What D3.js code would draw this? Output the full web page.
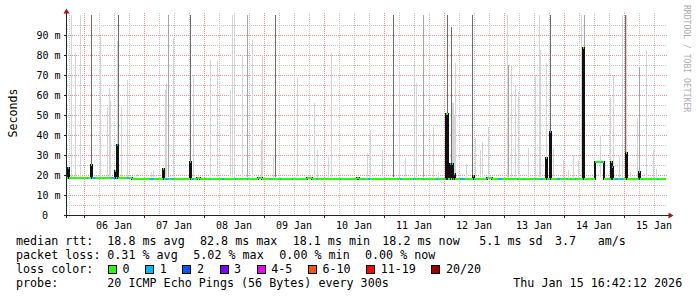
<!DOCTYPE html>
<html>
<head>
<meta charset="utf-8">
<script src="https://cdn.jsdelivr.net/npm/d3@7"></script>
<style>
body { margin: 0; background: #fff; }
text { font-family: 'DejaVu Sans Mono', monospace; fill: #000; }
</style>
</head>
<body>
<div id="chart"></div>
<script>
// ---- data (hours are counted from 06 Jan 2026 00:00, values in ms) ----
var yTicks = [0, 10, 20, 30, 40, 50, 60, 70, 80, 90];
var yTickLabels = ["0", "10 m", "20 m", "30 m", "40 m", "50 m", "60 m", "70 m", "80 m", "90 m"];
var dayLabels = ["06 Jan", "07 Jan", "08 Jan", "09 Jan", "10 Jan", "11 Jan", "12 Jan", "13 Jan", "14 Jan", "15 Jan"];

var startHour = -6.8, endHour = 233.2, lastHour = 232.8, stepHours = 0.4;

// median rtt baseline, [from hour, ms]
var medianLevels = [[-6.8, 18.7], [19.2, 18.2], [45.2, 18.7], [46.4, 18.2], [69.6, 18.7], [71.2, 18.2],
    [89.2, 18.7], [91.2, 18.2], [109.2, 18.7], [110.0, 18.2], [161.2, 18.7], [163.2, 18.2],
    [204.4, 26.7], [208.0, 18.2]];

// single-step jumps of the median, [hour, ms, loss class]
var medianSpikes = [[-6.4, 23.5, 1], [2.8, 25, 0], [12.4, 22, 0], [13.2, 35, 1], [31.6, 23, 0], [42.4, 26.3, 0],
    [144.8, 50.5, 0], [145.2, 50.5, 0], [146.4, 25.5, 1], [147.2, 25.7, 1], [148.0, 20.5, 0], [155.6, 19.5, 0],
    [184.8, 28.5, 0], [186.4, 41.7, 1], [199.6, 83.3, 0], [210.8, 26.7, 0], [211.2, 24, 1], [216.8, 31, 0],
    [222.0, 21.5, 0]];

// periods with 1/20 lost
var lossOne = [[1.2, 1.6], [2.9, 4.5], [10.8, 12.4], [17.2, 17.9], [26.4, 27.9], [32.4, 34], [35.2, 36],
    [43.2, 43.9], [50.4, 50.8], [55.2, 55.9], [60.4, 60.8], [65.2, 65.6], [70, 70.4], [74.4, 74.8],
    [78.4, 78.8], [83.2, 83.6], [93.2, 93.6], [102.4, 102.8], [111.6, 112], [113.6, 114.4], [126.4, 127.1],
    [131.6, 132], [132.4, 132.8], [135.6, 136], [141.1, 141.5], [143.6, 144], [144.4, 144.8], [147.6, 148],
    [150.4, 152.4], [155.9, 156.4], [161.1, 161.5], [165.6, 167.2], [173.2, 173.6], [175.6, 176],
    [180.4, 180.8], [182.4, 183.6], [185.6, 186], [189.2, 190.4], [193.2, 193.6], [196.4, 196.8],
    [199.2, 199.6], [207.1, 207.5], [210.4, 210.8], [212.4, 213.6], [214.4, 215.6], [221.6, 222], [229.2, 229.6]];

// smoke, [hour, top ms, shade 0 light / 1 mid / 2 dark]
var smoke = [[-5.2, 100, 0], [-3.5, 81, 0], [-1.5, 100, 0], [2.9, 100, 2], [6.4, 89, 0], [9.3, 54, 0],
    [10.1, 63.5, 0], [10.5, 57, 0], [13.2, 87, 0], [13.7, 100, 2], [15.1, 54, 0], [17.3, 67.5, 0],
    [21.2, 20.5, 0], [26.9, 21.7, 0], [27.9, 22.5, 0], [32.7, 62.5, 0], [33.1, 66, 0], [33.9, 100, 1],
    [35.7, 88.5, 0], [42.4, 100, 2], [43.7, 70, 0], [50.4, 77.5, 0], [53.3, 77, 0], [58.7, 62.5, 0],
    [59.5, 100, 0], [60.1, 100, 0], [63.3, 80, 0], [65.3, 100, 1], [67.3, 87.5, 0], [70.8, 37.5, 0],
    [71.3, 80, 0], [75.6, 29, 0], [76.5, 100, 2], [85.3, 69, 0], [92.1, 56, 0], [93.2, 32.5, 0],
    [97.6, 29, 0], [99.1, 81, 0], [113.2, 31, 0], [114.4, 42.5, 0], [119.2, 32.5, 0], [123.7, 100, 2],
    [126.1, 71.5, 0], [128.4, 28.5, 0], [132.4, 76.7, 0], [133.1, 66, 0], [135.7, 100, 1], [139.7, 44, 0],
    [141.7, 21.5, 0], [145.5, 100, 2], [146.8, 94, 2], [147.3, 56, 0], [147.7, 56, 0], [148.2, 50, 0],
    [148.7, 76, 0], [153.1, 25.5, 0],
    [155.5, 100, 2], [156.4, 38.5, 0], [158.4, 32.5, 0], [159.3, 36.7, 0], [161.7, 44, 0], [169.3, 100, 0],
    [169.7, 75, 1], [171.1, 75, 0], [172.7, 65, 0], [173.7, 61.5, 0], [177.7, 33.5, 0], [180.4, 70, 0],
    [182.1, 100, 0], [182.7, 82.5, 0], [184.8, 76, 0], [186.4, 100, 2], [187.7, 33.5, 0], [191.7, 27.5, 0],
    [193.7, 22.5, 0], [195.7, 30, 0], [197.7, 27.5, 0], [199.1, 100, 0], [200.1, 100, 1], [206.4, 40, 0],
    [210.4, 58.5, 0], [211.7, 70, 0], [214.1, 29, 0], [215.5, 100, 0], [216.4, 100, 2], [217.1, 100, 0],
    [218.4, 21.5, 0], [221.3, 48.5, 0], [222, 74, 1], [225.1, 82.5, 0], [227.7, 32.5, 0], [228.8, 23, 0]];

var lossLabels = ["0", "1", "2", "3", "4-5", "6-10", "11-19", "20/20"];
var lossColors = ["#26ff00", "#00b8ff", "#0059ff", "#7e00ff", "#ee00ff", "#ff5500", "#ff0000", "#a00000"];
var rttStats = ["18.8 ms avg", "82.8 ms max", "18.1 ms min", "18.2 ms now", "5.1 ms sd", "3.7", "am/s"];
var lossStats = ["0.31 % avg", "5.02 % max", "0.00 % min", "0.00 % now"];
var probeText = "20 ICMP Echo Pings (56 Bytes) every 300s";
var stampText = "Thu Jan 15 16:42:12 2026";

// ---- layout ----
var W = 697, H = 297;
var charW = 7;
var smokeShades = ["#d4d4d4", "#a4a4a4", "#6c6c6c"];
var rttX = [107.3, 200, 292.7, 382.3, 479.3, 555, 597.7];
var lossX = [107.3, 193.3, 279.3, 365];

var t0 = new Date(2026, 0, 6).getTime();
function hourToDate(h) { return new Date(t0 + h * 3600 * 1000); }

var x = d3.scaleTime()
    .domain([hourToDate(startHour), hourToDate(endHour)])
    .range([67, 667]);
var y = d3.scaleLinear().domain([0, 100]).range([215, 15]);

var svg = d3.select("#chart").append("svg")
    .attr("width", W).attr("height", H)
    .style("display", "block");
svg.append("rect").attr("width", W).attr("height", H).attr("fill", "#fff");

////////// grid //////////
var grid = svg.append("g").attr("shape-rendering", "crispEdges").attr("stroke-dasharray", "1,1");
var hourLines = d3.timeHour.every(6).range(x.domain()[0], x.domain()[1]);
grid.selectAll(".vminor")
    .data(hourLines.filter(d => d.getHours() !== 0))
    .enter().append("line")
    .attr("x1", d => Math.round(x(d)) + 0.5).attr("x2", d => Math.round(x(d)) + 0.5)
    .attr("y1", 13).attr("y2", y(0))
    .attr("stroke", "#c4c4c4");
grid.selectAll(".hminor")
    .data(d3.range(5, 100, 10))
    .enter().append("line")
    .attr("x1", 67).attr("x2", 667)
    .attr("y1", d => Math.round(y(d)) + 0.5).attr("y2", d => Math.round(y(d)) + 0.5)
    .attr("stroke", "#c4c4c4");
grid.selectAll(".vmajor")
    .data(d3.timeDay.range(x.domain()[0], x.domain()[1]))
    .enter().append("line")
    .attr("x1", d => Math.round(x(d)) + 0.5).attr("x2", d => Math.round(x(d)) + 0.5)
    .attr("y1", 13).attr("y2", y(0))
    .attr("stroke", "#f08c8c");
grid.selectAll(".hmajor")
    .data(yTicks.filter(d => d > 0))
    .enter().append("line")
    .attr("x1", 64).attr("x2", 667)
    .attr("y1", d => Math.round(y(d)) + 0.5).attr("y2", d => Math.round(y(d)) + 0.5)
    .attr("stroke", "#f08c8c");

////////// smoke //////////
svg.append("g").attr("shape-rendering", "crispEdges")
    .selectAll("rect")
    .data(smoke)
    .enter().append("rect")
    .attr("x", d => Math.floor(x(hourToDate(d[0]))))
    .attr("width", 1)
    .attr("y", d => y(d[1]))
    .attr("height", d => y(19) - y(d[1]))
    .attr("fill", d => smokeShades[d[2]]);

////////// median //////////
var nSteps = Math.round((lastHour - startHour) / stepHours);
var steps = [];
for (var k = 0; k < nSteps; k++) {
    var h = startHour + k * stepHours;
    var level = medianLevels.filter(m => m[0] <= h + 1e-6).pop();
    var loss = lossOne.some(r => r[0] < h + stepHours - 1e-6 && r[1] > h + 1e-6) ? 1 : 0;
    steps.push({h: h, v: level[1], loss: loss});
}
medianSpikes.forEach(s => {
    var k = Math.round((s[0] - startHour) / stepHours);
    steps[k].v = s[1];
    steps[k].loss = s[2];
});

var linePts = steps.map(d => [d.h, d.v]).concat([[lastHour, steps[nSteps - 1].v]]);
svg.append("path")
    .datum(linePts)
    .attr("fill", "none")
    .attr("stroke", "#111")
    .attr("stroke-width", 2)
    .attr("shape-rendering", "crispEdges")
    .attr("d", d3.line()
        .x(d => x(hourToDate(d[0])))
        .y(d => y(d[1]))
        .curve(d3.curveStepAfter));

// colour runs
var runs = [];
steps.forEach(d => {
    var last = runs[runs.length - 1];
    if (last && last.v === d.v && last.loss === d.loss) last.h1 = d.h + stepHours;
    else runs.push({h0: d.h, h1: d.h + stepHours, v: d.v, loss: d.loss});
});
svg.append("g").attr("shape-rendering", "crispEdges")
    .selectAll("line")
    .data(runs)
    .enter().append("line")
    .attr("x1", d => x(hourToDate(d.h0)))
    .attr("x2", d => x(hourToDate(d.h1)))
    .attr("y1", d => y(d.v)).attr("y2", d => y(d.v))
    .attr("stroke", d => lossColors[d.loss])
    .attr("stroke-width", 2);

////////// axes //////////
var axes = svg.append("g").attr("shape-rendering", "crispEdges");
axes.append("line").attr("x1", 64).attr("x2", 669).attr("y1", y(0) + 0.5).attr("y2", y(0) + 0.5).attr("stroke", "#222");
axes.append("line").attr("x1", 66.5).attr("x2", 66.5).attr("y1", 218).attr("y2", 12).attr("stroke", "#222");
axes.selectAll(".ytick")
    .data(yTicks.filter(d => d > 0))
    .enter().append("line")
    .attr("x1", 64).attr("x2", 67)
    .attr("y1", d => Math.round(y(d)) + 0.5).attr("y2", d => Math.round(y(d)) + 0.5)
    .attr("stroke", "#222");
axes.selectAll(".xtick")
    .data(d3.timeDay.range(x.domain()[0], x.domain()[1]))
    .enter().append("line")
    .attr("x1", d => Math.round(x(d)) + 0.5).attr("x2", d => Math.round(x(d)) + 0.5)
    .attr("y1", y(0)).attr("y2", y(0) + 3)
    .attr("stroke", "#222");
svg.append("path").attr("d", "M63.5,13.5L69.5,13.5L66.5,8.5Z").attr("fill", "#a01818");
svg.append("path").attr("d", "M668.5,212.5L668.5,218.5L673.5,215.5Z").attr("fill", "#a01818");

svg.selectAll(".ylab")
    .data(yTicks)
    .enter().append("text")
    .attr("x", d => d === 0 ? 42 : 60.5)
    .attr("y", d => y(d) + 3.6)
    .attr("text-anchor", d => d === 0 ? "start" : "end")
    .style("font-size", "10px")
    .text((d, i) => yTickLabels[i]);

svg.selectAll(".xlab")
    .data(dayLabels)
    .enter().append("text")
    .attr("x", (d, i) => x(hourToDate(i * 24 + 12)))
    .attr("y", 228.5)
    .attr("text-anchor", "middle")
    .style("font-size", "10px")
    .text(d => d);

svg.append("text")
    .attr("transform", "translate(16.5,113) rotate(-90)")
    .attr("text-anchor", "middle")
    .style("font-size", "11.6px")
    .text("Seconds");

svg.append("text")
    .attr("transform", "translate(684,5) rotate(90)")
    .style("font-size", "8.1px")
    .style("fill", "#acacac")
    .text("RRDTOOL / TOBI OETIKER");

////////// legend //////////
var legend = svg.append("g").style("font-size", "11.7px");
legend.append("text").attr("x", 16).attr("y", 245).text("median rtt:");
legend.selectAll(".rtt").data(rttStats).enter().append("text")
    .attr("x", (d, i) => rttX[i]).attr("y", 245).text(d => d);
legend.append("text").attr("x", 16).attr("y", 259).text("packet loss:");
legend.selectAll(".pl").data(lossStats).enter().append("text")
    .attr("x", (d, i) => lossX[i]).attr("y", 259).text(d => d);
legend.append("text").attr("x", 16).attr("y", 273).text("loss color:");

// each swatch item: box, gap, label, gap
var swX = [];
lossLabels.reduce((pos, d) => { swX.push(pos); return pos + 30.2 + charW * d.length; }, 108);
var sw = legend.selectAll(".sw").data(lossLabels).enter().append("g")
    .attr("transform", (d, i) => "translate(" + swX[i] + ",0)");
sw.append("rect")
    .attr("x", 0.5).attr("y", 265.5).attr("width", 8).attr("height", 8)
    .attr("fill", (d, i) => lossColors[i])
    .attr("stroke", "#000").attr("shape-rendering", "crispEdges");
sw.append("text").attr("x", 14.5).attr("y", 273).text(d => d);
legend.append("text").attr("x", 16).attr("y", 287).text("probe:");
legend.append("text").attr("x", 107.3).attr("y", 287).text(probeText);
legend.append("text").attr("x", 513.3).attr("y", 287).text(stampText);
</script>
</body>
</html>
